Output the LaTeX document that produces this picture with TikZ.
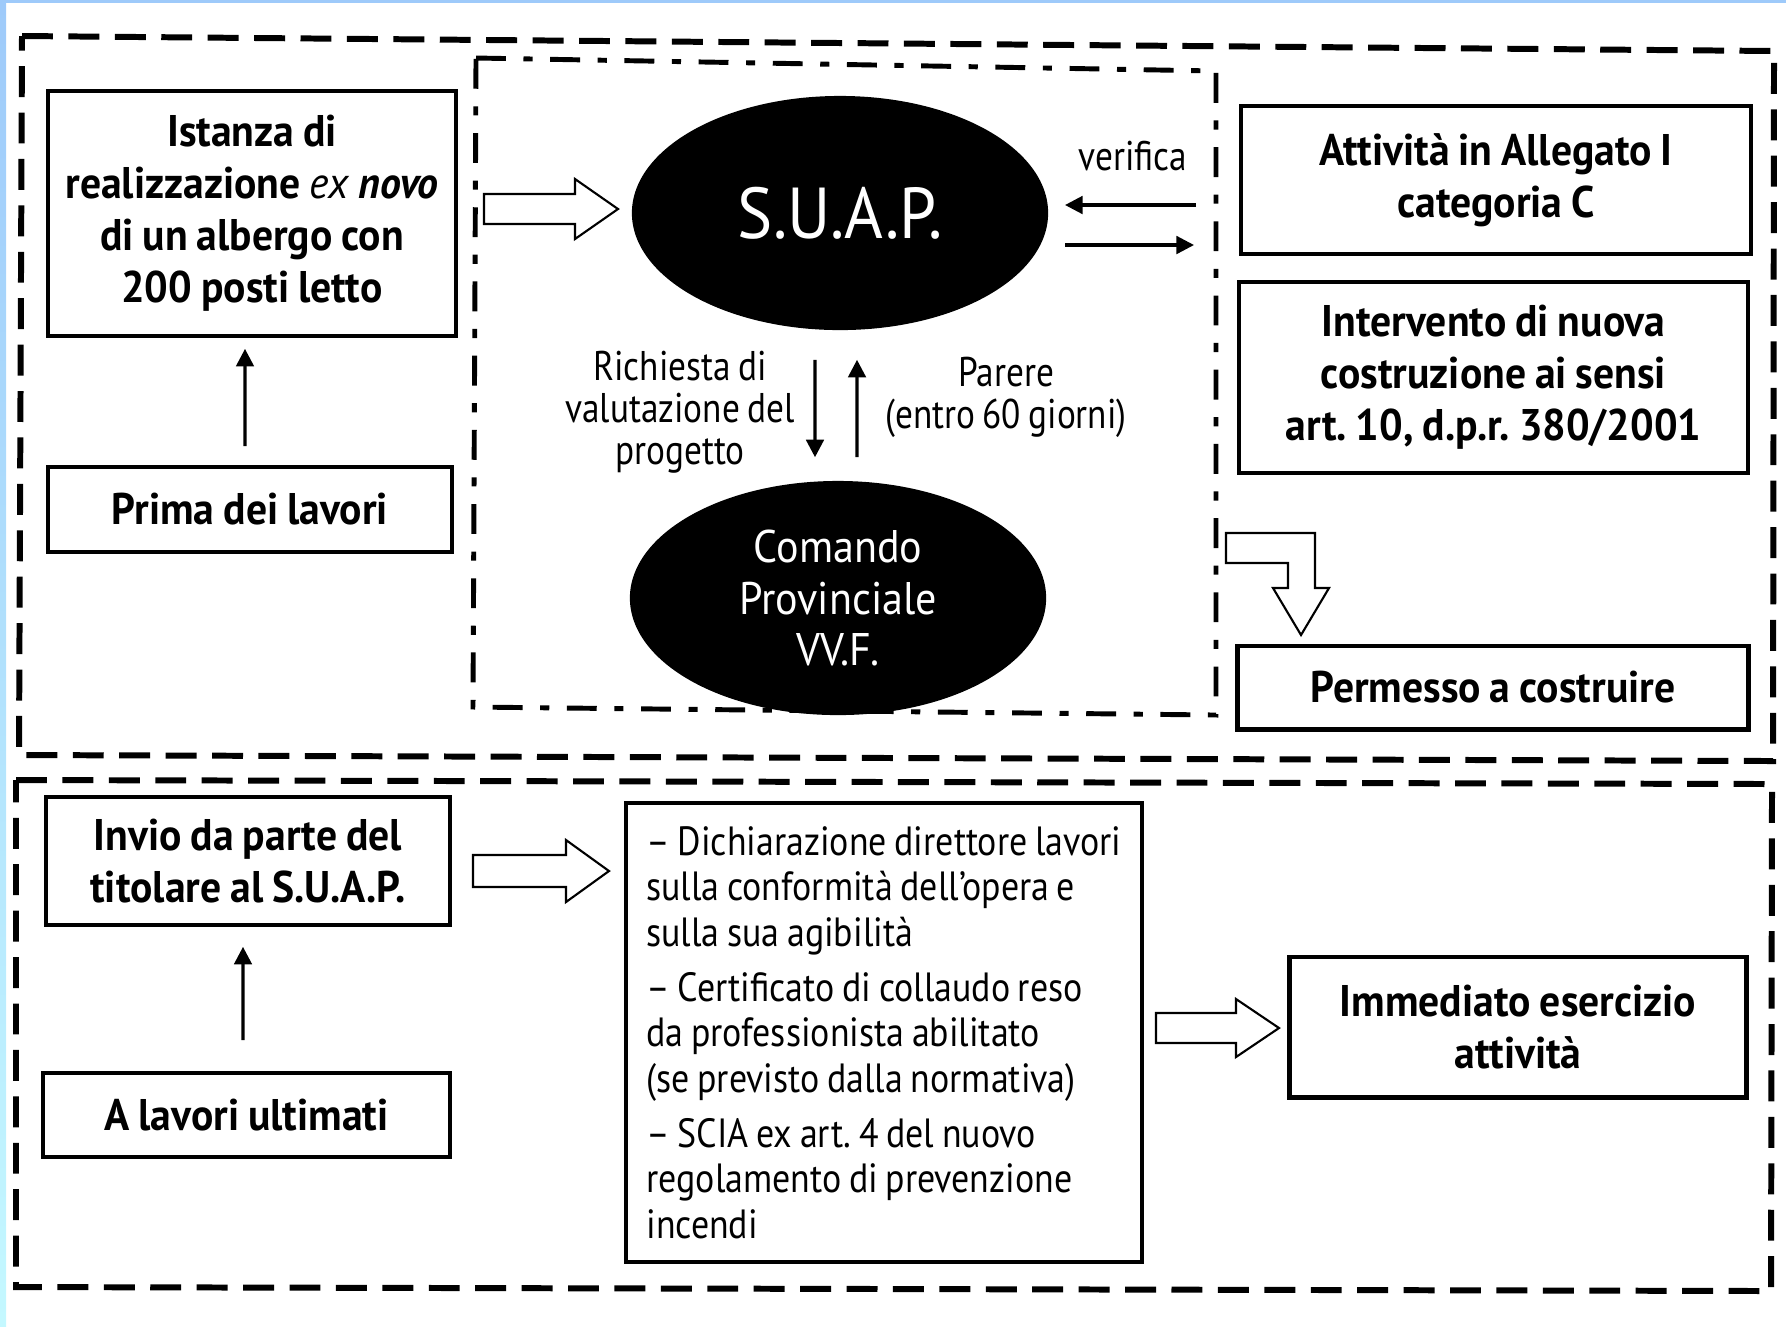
\documentclass[tikz,border=0pt]{standalone}
\usepackage{fontspec}
\setmainfont{PT Sans}[FakeStretch=0.85, WordSpace=0.8]
\newfontfamily\heavyfont{PT Sans}[FakeStretch=0.94, WordSpace=0.85]
\newfontfamily\blobfont{PT Sans}[FakeStretch=0.92]
\newfontfamily\listfamily{PT Sans}[FakeStretch=0.88, WordSpace=0.8]
\usetikzlibrary{arrows.meta,shapes.geometric}
\definecolor{edgeblue}{RGB}{158,202,250}
\definecolor{edgecyan}{RGB}{196,248,255}
\frenchspacing

% text styles
\newcommand{\boxfont}{\heavyfont\bfseries\fontsize{12.6}{14.8}\selectfont}
\newcommand{\listfont}{\listfamily\fontsize{11.6}{12.95}\selectfont}
\newcommand{\labelfont}{\fontsize{11.8}{12}\selectfont}

% hollow block arrow: start x, head base x, tip x, centre y, shaft half, head half
\newcommand{\hollowarrow}[6]{%
  \draw[hollow] (#1,#4-#5) -- (#2,#4-#5) -- (#2,#4-#6) -- (#3,#4)
    -- (#2,#4+#6) -- (#2,#4+#5) -- (#1,#4+#5) -- cycle;}

\begin{document}
\begin{tikzpicture}[x=0.01cm,y=-0.01cm,
  outerframe/.style={line width=1.7pt, dash pattern=on 8.8pt off 4.4pt},
  innerframe/.style={line width=1.4pt, dash pattern=on 8.5pt off 5pt on 2.6pt off 5pt},
  box/.style={draw, line width=1pt, inner sep=0pt, align=center, font=\boxfont},
  heavybox/.style={box, line width=1.4pt},
  blob/.style={ellipse, fill=black, inner sep=0pt, text=white, align=center},
  arr/.style={line width=0.9pt, -{Triangle[length=5pt, width=5pt]}},
  hollow/.style={draw, line width=0.6pt, fill=white, line join=miter},
  lbl/.style={align=center, font=\labelfont, inner sep=0pt}
]
\useasboundingbox (0,0) rectangle (1786,1326);

% screen edge tint
\fill[edgeblue] (0,0) rectangle (1786,3);
\shade[top color=edgeblue, bottom color=edgecyan] (0,0) rectangle (6,1326);

% grouping frames
\draw[outerframe] (22,36) -- (1774,51) -- (1773,761) -- (19,755) -- cycle;
\draw[outerframe] (16,780) -- (1772,784) -- (1771,1291) -- (16,1287) -- cycle;
\draw[innerframe] (476,58) -- (1216,71) -- (1216,715) -- (473,707) -- cycle;

% upper section
\node[box, minimum width=4.08cm, minimum height=2.45cm] (ist) at (252,213.5)
  {Istanza di\\realizzazione \textit{\mdseries ex} \textit{novo}\\di un albergo con\\200 posti letto};
\node[box, minimum width=4.04cm, minimum height=0.85cm] (prima) at (250,509.5) {Prima dei lavori};

\node[blob, minimum width=4.16cm, minimum height=2.34cm, font=\blobfont\fontsize{20.5}{22}\selectfont] (suap) at (840,213) {S.U.A.P.};
\node[blob, minimum width=4.16cm, minimum height=2.34cm, font=\blobfont\fontsize{13}{14.6}\selectfont] (com) at (838,598)
  {Comando\\Provinciale\\VV.F.};

\node[box, minimum width=5.10cm, minimum height=1.48cm] (att) at (1496,180) {Attività in Allegato I\\categoria C};
\node[box, minimum width=5.09cm, minimum height=1.91cm] (int) at (1493.5,377.5)
  {Intervento di nuova\\costruzione ai sensi\\art. 10, d.p.r. 380/2001};
\node[heavybox, minimum width=5.10cm, minimum height=0.83cm] (perm) at (1493,687.5) {Permesso a costruire};

\node[lbl] (verif) at (1133,156) {verifica};
\node[lbl] (rich) at (680,412) {Richiesta di\\valutazione del\\progetto};
\node[lbl] (par) at (1006,397) {Parere\\(entro 60 giorni)};

\coordinate (vin) at (1196,205);
\coordinate (vinend) at (1065,205);
\coordinate (voutstart) at (1065,245);
\coordinate (vout) at (1194,245);
\draw[arr] (vin) -- (vinend);
\draw[arr] (voutstart) -- (vout);

\draw[arr] ([xshift=-0.5mm,yshift=1.9mm]prima.north) -- ([xshift=-0.7mm,yshift=-1.1mm]ist.south);
\draw[arr] ([xshift=-2.5mm,yshift=-2.9mm]suap.south) -- ([xshift=-2.3mm,yshift=2.3mm]com.north);
\draw[arr] ([xshift=1.9mm,yshift=2.3mm]com.north) -- ([xshift=1.7mm,yshift=-2.9mm]suap.south);

\hollowarrow{484}{575}{618}{209}{15}{30}
\draw[hollow] (1226,533) -- (1315,533) -- (1315,588) -- (1329,588) -- (1301,635)
  -- (1273,588) -- (1288,588) -- (1288,563) -- (1226,563) -- cycle;

% lower section
\node[box, minimum width=4.04cm, minimum height=1.28cm] (invio) at (248,861)
  {Invio da parte del\\titolare al S.U.A.P.};
\node[box, minimum width=4.07cm, minimum height=0.84cm] (alav) at (246.5,1115) {A lavori ultimati};
\draw[arr] ([xshift=-0.35mm,yshift=3.1mm]alav.north) -- ([xshift=-0.5mm,yshift=-2mm]invio.south);

\node[draw, line width=1pt, inner sep=0pt, align=left,
  minimum width=5.16cm, minimum height=4.59cm, font=\listfont] (docs) at (884,1032.5)
  {– Dichiarazione direttore lavori\\sulla conformità dell’opera e\\sulla sua agibilità\\[2.7pt]
   – Certificato di collaudo reso\\da professionista abilitato\\(se previsto dalla normativa)\\[2.7pt]
   – SCIA ex art. 4 del nuovo\\regolamento di prevenzione\\incendi};

\node[heavybox, minimum width=4.56cm, minimum height=1.40cm] (imm) at (1518,1027)
  {Immediato esercizio\\attività};

\hollowarrow{473}{566}{609}{871}{16}{31}
\hollowarrow{1156}{1236}{1279}{1028}{15}{29}
\end{tikzpicture}
\end{document}
